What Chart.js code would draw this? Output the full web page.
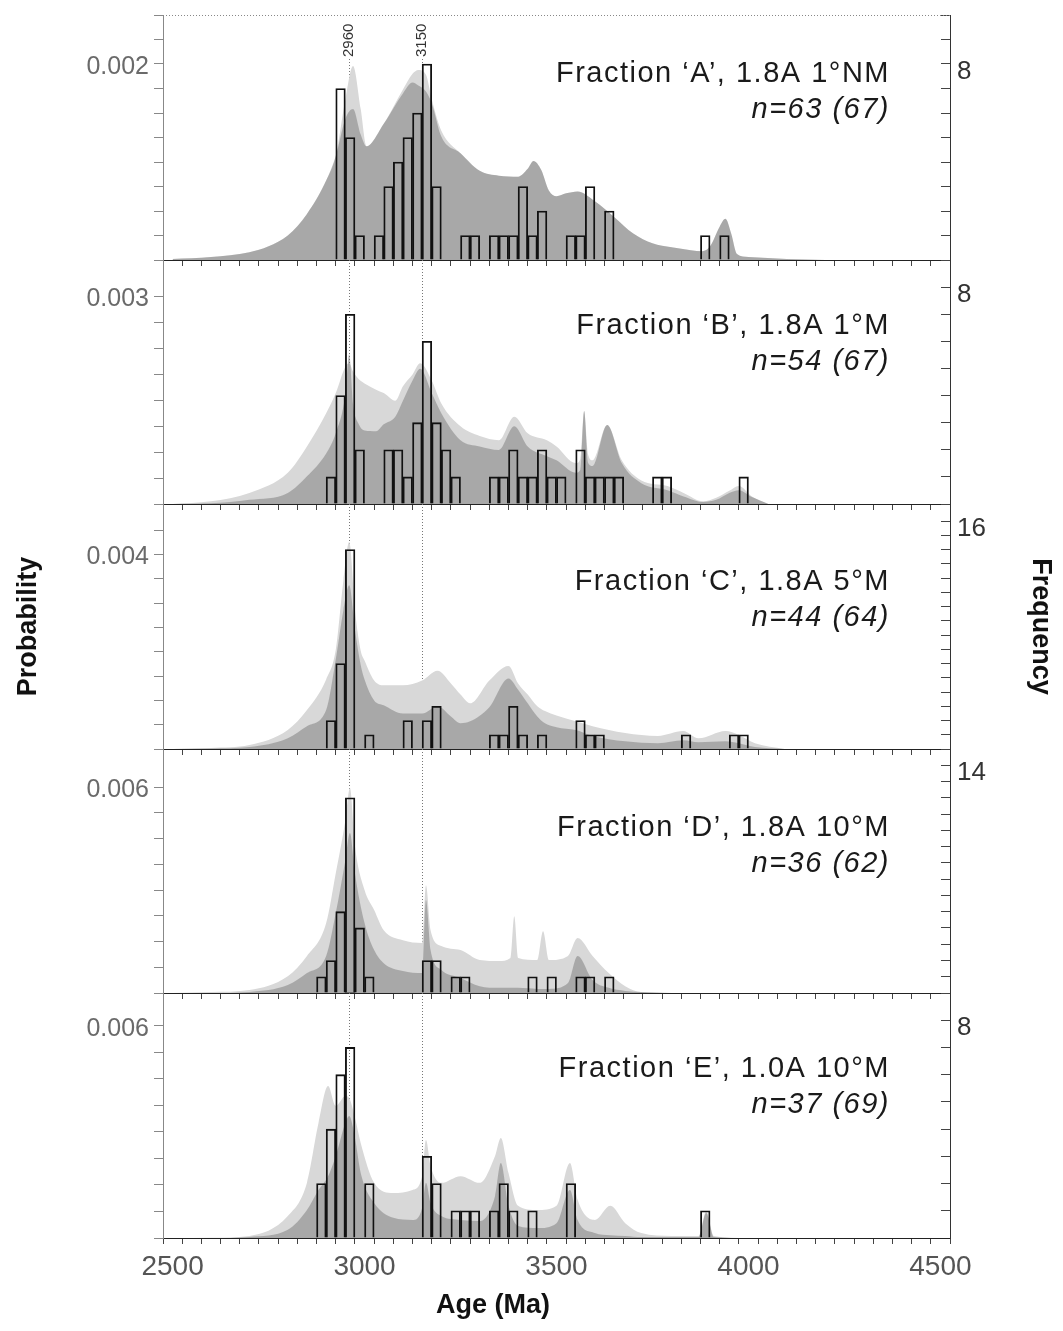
<!DOCTYPE html>
<html>
<head>
<meta charset="utf-8">
<script src="https://cdn.jsdelivr.net/npm/chart.js@4.4.1/dist/chart.umd.min.js"></script>
<style>
  body { margin: 0; background: #fff; }
  #wrap { position: relative; width: 1063px; height: 1331px; overflow: hidden; background: #fff; }
  #wrap canvas { position: absolute; left: 0; }
</style>
</head>
<body>
<div id="wrap"></div>
<script>
// histogram bins (lower edge, Ma), 25 Ma wide
const binWidth = 25;
const binStarts = [2875, 2900, 2925, 2950, 2975, 3000, 3025, 3050, 3075, 3100,
                   3125, 3150, 3175, 3200, 3225, 3250, 3275, 3300, 3325, 3350,
                   3375, 3400, 3425, 3450, 3475, 3500, 3525, 3550, 3575, 3600,
                   3625, 3650, 3675, 3700, 3725, 3750, 3775, 3800, 3825, 3850,
                   3875, 3900, 3925, 3950, 3975];

const countsA = [0,0,7,5,1, 0,1,3,4,5, 6,8,3,0,0, 1,1,0,1,1, 1,3,1,2,0, 0,1,1,3,0, 2,0,0,0,0, 0,0,0,0,0, 1,0,1,0,0];
const countsB = [0,1,4,7,2, 0,0,2,2,1, 3,6,3,2,1, 0,0,0,1,1, 2,1,1,2,1, 1,0,2,1,1, 1,1,0,0,0, 1,1,0,0,0, 0,0,0,0,1];
const countsC = [0,2,6,14,0, 1,0,0,0,2, 0,2,3,0,0, 0,0,0,1,1, 3,1,0,1,0, 0,0,2,1,1, 0,0,0,0,0, 0,0,0,1,0, 0,0,0,1,1];
const countsD = [1,2,5,12,4, 1,0,0,0,0, 0,2,2,0,1, 1,0,0,0,0, 0,0,1,0,1, 0,0,1,1,0, 1,0,0,0,0, 0,0,0,0,0, 0,0,0,0,0];
const countsE = [2,4,6,7,0, 2,0,0,0,0, 0,3,2,0,1, 1,1,0,1,2, 1,0,1,0,0, 0,2,0,0,0, 0,0,0,0,0, 0,0,0,0,0, 1,0,0,0,0];

// probability density curves (age Ma, probability), light = outer envelope, dark = inner
const curveAgesA = [2500,2600,2700,2750,2800, 2850,2900,2925,2950,2970, 2990,3005,3050,3100,3125, 3140,3160,3175,3200,3250,
                    3300,3350,3400,3425,3440, 3460,3480,3500,3525,3555, 3600,3650,3700,3750,3800, 3850,3880,3900,3925,3940,
                    3955,3970,4000,4100,4200];
const lightA = [0.00001,0.00003,0.00008,0.00014,0.00025, 0.00047,0.00081,0.00106,0.00164,0.00198, 0.00154,0.00116,0.00139,0.00174,0.0019,
                0.00194,0.00189,0.00164,0.00132,0.00109, 0.00091,0.00086,0.00085,0.00093,0.00101, 0.00092,0.00071,0.00065,0.00068,0.0007,
                0.0006,0.00044,0.00027,0.00017,0.00013, 0.0001,0.00009,0.00014,0.00034,0.00042, 0.00027,0.00006,0.00003,0.00001,0];
const darkA  = [0.00001,0.00003,0.00008,0.00014,0.00025, 0.00047,0.00081,0.00106,0.00144,0.00154, 0.00128,0.00116,0.00139,0.0017,0.00181,
                0.00178,0.00172,0.0016,0.00126,0.00109, 0.00091,0.00086,0.00085,0.00093,0.00101, 0.00092,0.00071,0.00065,0.00068,0.0007,
                0.0006,0.00044,0.00027,0.00017,0.00013, 0.0001,0.00009,0.00014,0.00034,0.00042, 0.00027,0.00006,0.00003,0.00001,0];

const curveAgesB = [2500,2600,2700,2800,2850, 2900,2925,2950,2960,2970, 2985,3000,3030,3050,3080, 3100,3125,3145,3175,3200,
                    3250,3300,3350,3390,3425, 3475,3500,3550,3562,3572, 3582,3594,3632,3670,3721, 3789,3831,3882,3916,3950,
                    3975,4009,4052];
const lightB = [0,0.00004,0.00016,0.00045,0.00083, 0.00131,0.0016,0.00198,0.00203,0.00191, 0.0018,0.00174,0.00165,0.0016,0.00149,
                0.0017,0.00187,0.00203,0.00178,0.00145, 0.00112,0.00098,0.00092,0.00126,0.00102, 0.00092,0.00083,0.00059,0.00065,0.00134,
                0.00072,0.00063,0.00114,0.00063,0.00034, 0.00026,0.00016,0.00004,0.00009,0.00019, 0.00026,0.00011,0];
const darkB  = [0,0.00001,0.00006,0.00016,0.0004, 0.00073,0.00102,0.00158,0.00216,0.00144, 0.00115,0.00106,0.00105,0.00115,0.00126,
                0.00149,0.00178,0.00195,0.0016,0.00131, 0.00092,0.00083,0.00078,0.00112,0.00083, 0.00069,0.00063,0.00045,0.00049,0.00134,
                0.0006,0.00055,0.00114,0.00059,0.0003, 0.0002,0.00011,0.00003,0.00006,0.00016, 0.0002,0.0001,0];

const curveAgesC = [2500,2600,2700,2800,2850, 2900,2925,2945,2960,2975, 2990,3000,3025,3050,3100, 3150,3190,3225,3250,3275,
                    3325,3375,3400,3425,3450, 3470,3500,3550,3594,3679, 3764,3830,3870,3940,3975, 4017,4094];
const lightC = [0,0.00002,0.00008,0.00039,0.0008, 0.00143,0.00204,0.00347,0.00426,0.00286, 0.00202,0.00182,0.00141,0.00131,0.00131,
                0.00141,0.00161,0.00135,0.00112,0.00094, 0.00141,0.00171,0.00135,0.00112,0.00088, 0.00078,0.00069,0.00057,0.00047,0.00033,
                0.00027,0.00037,0.00022,0.00037,0.00029, 0.00012,0];
const darkC  = [0,0.00001,0.00004,0.00022,0.00047, 0.0008,0.00184,0.00286,0.00337,0.00245, 0.00173,0.00143,0.001,0.0009,0.00073,
                0.00073,0.00088,0.00067,0.00053,0.00057, 0.00086,0.00145,0.00122,0.00094,0.00067, 0.00053,0.00045,0.00039,0.00027,0.00016,
                0.00012,0.00018,0.00014,0.00016,0.00012, 0.00004,0];

const curveAgesD = [2500,2600,2700,2800,2850, 2900,2925,2950,2962,2975, 3000,3025,3050,3100,3150, 3160,3172,3200,3250,3300,
                    3350,3380,3390,3400,3450, 3465,3480,3530,3555,3594, 3636,3679,3721,3800];
const lightD = [0,0.00003,0.00009,0.00049,0.00108, 0.00204,0.00349,0.00503,0.00597,0.00428, 0.003,0.00242,0.00183,0.00154,0.00146,
                0.00314,0.00183,0.00137,0.00125,0.00096, 0.00093,0.00102,0.00224,0.00102,0.00096, 0.0018,0.00096,0.00108,0.0016,0.00108,
                0.00058,0.0002,0.00003,0];
const darkD  = [0,0,0.00003,0.00023,0.00058, 0.00108,0.00233,0.00387,0.00466,0.00349, 0.00204,0.00125,0.00087,0.00064,0.00058,
                0.00271,0.00125,0.00067,0.00044,0.0002, 0.00015,0.00015,0.00015,0.00015,0.00012, 0.00012,0.00012,0.00029,0.00108,0.00038,
                0.00015,0.00006,0.00003,0];

const curveAgesE = [2500,2600,2700,2800,2850, 2880,2905,2925,2950,2960, 2975,2990,3025,3075,3125, 3150,3160,3172,3200,3250,
                    3300,3340,3355,3375,3400, 3450,3500,3535,3555,3600, 3640,3679,3721,3800,3870, 3890,3910,4000];
const lightE = [0,0.00001,0.00006,0.00062,0.00156, 0.00325,0.0043,0.00374,0.00402,0.00396, 0.0034,0.00269,0.00156,0.00127,0.00136,
                0.00175,0.00277,0.00204,0.00156,0.00175, 0.00156,0.00232,0.00283,0.00184,0.00091, 0.00079,0.00091,0.00212,0.00108,0.00051,
                0.00091,0.00042,0.00014,0.00006,0.00006, 0.00076,0.00006,0];
const darkE  = [0,0,0.00003,0.00023,0.00079, 0.00136,0.00175,0.00232,0.00325,0.00345, 0.00283,0.00184,0.00099,0.00057,0.00051,
                0.00085,0.00156,0.00099,0.00062,0.00051, 0.00048,0.00119,0.00212,0.00091,0.00034, 0.00028,0.00042,0.00136,0.00051,0.00014,
                0.00008,0.00006,0.00003,0.00003,0.00003, 0.00071,0.00003,0];

const refAges = [2960, 3150];
const xTickLabels = [2500, 3000, 3500, 4000, 4500];

const panels = [
  { title: "Fraction \u2018A\u2019, 1.8A 1\u00b0NM", n: "n=63 (67)", counts: countsA, ages: curveAgesA, light: lightA, dark: darkA,
    probLabel: 0.002, probMax: 0.0025, freqLabel: 8, freqMax: 10 },
  { title: "Fraction \u2018B\u2019, 1.8A 1\u00b0M", n: "n=54 (67)", counts: countsB, ages: curveAgesB, light: lightB, dark: darkB,
    probLabel: 0.003, probMax: 0.00352, freqLabel: 8, freqMax: 9 },
  { title: "Fraction \u2018C\u2019, 1.8A 5\u00b0M", n: "n=44 (64)", counts: countsC, ages: curveAgesC, light: lightC, dark: darkC,
    probLabel: 0.004, probMax: 0.00504, freqLabel: 16, freqMax: 17.2 },
  { title: "Fraction \u2018D\u2019, 1.8A 10\u00b0M", n: "n=36 (62)", counts: countsD, ages: curveAgesD, light: lightD, dark: darkD,
    probLabel: 0.006, probMax: 0.00711, freqLabel: 14, freqMax: 15 },
  { title: "Fraction \u2018E\u2019, 1.0A 10\u00b0M", n: "n=37 (69)", counts: countsE, ages: curveAgesE, light: lightE, dark: darkE,
    probLabel: 0.006, probMax: 0.00693, freqLabel: 8, freqMax: 9 }
];

// ---- layout ----
const W = 1063, H = 1331;
const plotLeft = 163, plotRight = 950, plotTop = 15, plotBottom = 1238;
const FONT = "'Liberation Sans', Arial, sans-serif";
const titleBaseline = [67, 74, 86, 87, 84];
const panelH = (plotBottom - plotTop) / panels.length;

const decor = {
  id: 'decor',
  beforeDatasetsDraw(chart, args, opts) {
    const { ctx, chartArea, scales: { x } } = chart;
    ctx.save();
    ctx.strokeStyle = '#777';
    ctx.lineWidth = 1;
    ctx.setLineDash([1, 2]);
    refAges.forEach(age => {
      const px = Math.round(x.getPixelForValue(age)) + 0.5;
      ctx.beginPath();
      ctx.moveTo(px, chartArea.top + (opts.first ? 44 : 0));
      ctx.lineTo(px, chartArea.bottom);
      ctx.stroke();
    });
    if (opts.first) {
      ctx.strokeStyle = '#888';
      ctx.beginPath();
      ctx.moveTo(chartArea.left, chartArea.top + 0.5);
      ctx.lineTo(chartArea.right, chartArea.top + 0.5);
      ctx.stroke();
    }
    ctx.restore();
  },
  afterDatasetsDraw(chart, args, opts) {
    const { ctx, chartArea, scales: { x } } = chart;
    ctx.save();
    ctx.fillStyle = '#1a1a1a';
    ctx.textAlign = 'right';
    ctx.textBaseline = 'alphabetic';
    ctx.letterSpacing = '1.5px';
    ctx.font = "29px " + FONT;
    const tx = chartArea.right - 60;
    ctx.fillText(opts.title, tx, chartArea.top + opts.baseline);
    ctx.font = "italic 29px " + FONT;
    ctx.fillText(opts.n, tx, chartArea.top + opts.baseline + 36);
    ctx.letterSpacing = '0px';
    if (opts.first) {
      ctx.font = "15px " + FONT;
      ctx.fillStyle = '#333';
      ctx.textAlign = 'left';
      ctx.textBaseline = 'middle';
      refAges.forEach(age => {
        const px = x.getPixelForValue(age);
        ctx.save();
        ctx.translate(px, chartArea.top + 42);
        ctx.rotate(-Math.PI / 2);
        ctx.fillText(String(age), 0, 0);
        ctx.restore();
      });
    }
    if (opts.last) {
      ctx.font = "bold 27px " + FONT;
      ctx.fillStyle = '#111';
      ctx.textAlign = 'center';
      ctx.textBaseline = 'middle';
      ctx.fillText('Age (Ma)', 493, chart.height - 25);
    }
    ctx.restore();
  }
};

// keep scales from reserving room for overflowing labels
const noPadY = s => { s.paddingTop = 0; s.paddingBottom = 0; };
const noPadX = s => { s.paddingLeft = 0; s.paddingRight = 0; };

const wrap = document.getElementById('wrap');

panels.forEach((p, i) => {
  const first = i === 0, last = i === panels.length - 1, mid = i === 2;
  const top = Math.round(plotTop + i * panelH);
  const bottom = Math.round(plotTop + (i + 1) * panelH);
  const cTop = first ? 0 : top - 10;
  const padTop = top - cTop;
  const axisH = last ? H - plotBottom : 10;
  const h = padTop + (bottom - top) + axisH;

  const canvas = document.createElement('canvas');
  canvas.width = W; canvas.height = h;
  canvas.style.top = cTop + 'px';
  canvas.style.width = W + 'px'; canvas.style.height = h + 'px';
  wrap.appendChild(canvas);

  const bars = binStarts.map((b, k) => ({ x: b + binWidth / 2, y: p.counts[k] ? p.counts[k] : null }));
  const lightPts = p.ages.map((a, k) => ({ x: a, y: p.light[k] }));
  const darkPts = p.ages.map((a, k) => ({ x: a, y: p.dark[k] }));

  new Chart(canvas.getContext('2d'), {
    type: 'bar',
    data: {
      datasets: [
        {
          type: 'bar', label: 'Frequency', data: bars, xAxisID: 'x', yAxisID: 'yF',
          backgroundColor: 'rgba(255,255,255,0)', borderColor: '#111', borderWidth: 1.2,
          barPercentage: 1, categoryPercentage: 1, order: 0
        },
        {
          type: 'line', label: 'dark', data: darkPts, xAxisID: 'x', yAxisID: 'yP',
          fill: 'origin', backgroundColor: 'rgba(110,110,110,0.45)', borderColor: 'rgba(0,0,0,0)', borderWidth: 0,
          pointRadius: 0, cubicInterpolationMode: 'monotone', order: 1
        },
        {
          type: 'line', label: 'light', data: lightPts, xAxisID: 'x', yAxisID: 'yP',
          fill: 'origin', backgroundColor: '#d8d8d8', borderColor: 'rgba(0,0,0,0)', borderWidth: 0,
          pointRadius: 0, cubicInterpolationMode: 'monotone', order: 2
        }
      ]
    },
    options: {
      responsive: false,
      animation: false,
      layout: { padding: { top: padTop, left: 0, right: 0, bottom: 0 } },
      plugins: {
        legend: { display: false },
        tooltip: { enabled: false },
        decor: { first, last, title: p.title, n: p.n, baseline: titleBaseline[i] }
      },
      scales: {
        x: {
          type: 'linear', position: 'bottom', min: 2500, max: 4500,
          afterFit: s => { s.height = axisH; noPadX(s); },
          border: { color: '#222', width: 1 },
          grid: { drawOnChartArea: false, tickLength: 6, color: '#444' },
          ticks: {
            display: last, stepSize: 50, autoSkip: false, maxRotation: 0, padding: 6,
            color: '#555', font: { family: FONT, size: 28 },
            callback: v => xTickLabels.includes(v) ? String(v) : ''
          }
        },
        yP: {
          position: 'left', min: 0, max: p.probMax,
          afterFit: s => { s.width = plotLeft; noPadY(s); },
          border: { color: '#888', width: 1, dash: [2, 2] },
          grid: { drawOnChartArea: false, tickLength: 9, color: '#888' },
          ticks: {
            stepSize: p.probLabel / 8, autoSkip: false, padding: 5, labelOffset: 3,
            color: '#6a6a6a', font: { family: FONT, size: 25 },
            callback: v => Math.abs(v - p.probLabel) < 1e-9 ? p.probLabel.toFixed(3) : ''
          },
          title: {
            display: mid, text: 'Probability', color: '#111',
            font: { family: FONT, size: 27, weight: 'bold' }, padding: { top: 12, bottom: 0 }
          }
        },
        yF: {
          position: 'right', min: 0, max: p.freqMax,
          afterFit: s => { s.width = W - plotRight; noPadY(s); },
          border: { color: '#333', width: 1 },
          grid: { drawOnChartArea: false, tickLength: -9, color: '#444' },
          ticks: {
            stepSize: 1, autoSkip: false, padding: 16, labelOffset: 8,
            color: '#333', font: { family: FONT, size: 26 },
            callback: v => v === p.freqLabel ? String(v) : ''
          },
          title: {
            display: mid, text: 'Frequency', color: '#111',
            font: { family: FONT, size: 27, weight: 'bold' }, padding: { top: 6, bottom: 0 }
          }
        }
      }
    },
    plugins: [decor]
  });
});
</script>
</body>
</html>
